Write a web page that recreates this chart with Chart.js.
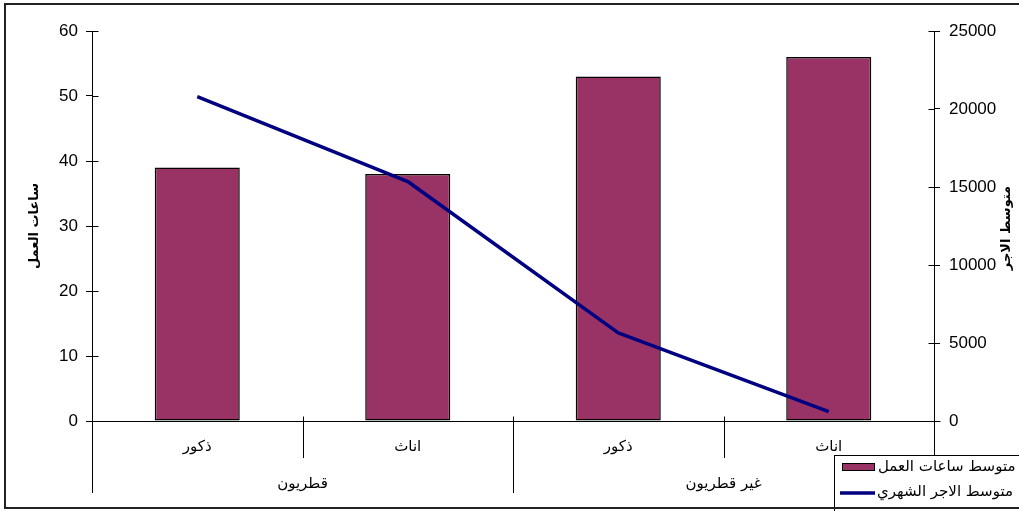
<!DOCTYPE html>
<html><head><meta charset="utf-8">
<script src="https://cdn.jsdelivr.net/npm/chart.js@4"></script>
<style>html,body{margin:0;padding:0;background:#fff;overflow:hidden}</style>
</head><body>
<canvas id="c" width="1019" height="511"></canvas>
<script>
const categories = ['ذكور','اناث','ذكور','اناث'];
const groups = ['قطريون','غير قطريون'];
const groupSpans = [2,2];
const hoursValues = [39,38,53,56];
const wageValues = [20800,15350,5650,600];
const hoursTickLabels = ['0','10','20','30','40','50','60'];
const wageTickLabels = ['0','5000','10000','15000','20000','25000'];
const seriesNames = ['متوسط ساعات العمل','متوسط الاجر الشهري'];
const axisTitles = ['ساعات العمل','متوسط الاجر'];

const BAR_COLOR = '#993366';
const LINE_COLOR = '#000080';
const TICK_FONT = {family:'"Liberation Sans", Arial, sans-serif', size:17};
const AR_FONT = '"DejaVu Sans", "Liberation Sans", sans-serif';

function seg(ctx,x1,y1,x2,y2){ctx.beginPath();ctx.moveTo(x1,y1);ctx.lineTo(x2,y2);ctx.stroke();}

const decor = {
  id:'decor',
  afterDraw(chart){
    const ctx = chart.ctx, ca = chart.chartArea;
    const xs = chart.scales.x, ys = chart.scales.y, ys1 = chart.scales.y1;
    ctx.save();
    ctx.strokeStyle = '#000'; ctx.lineWidth = 1;
    const L = Math.round(ca.left)+0.5, R = Math.round(ca.right)+0.5, B = Math.round(ca.bottom)+0.5;
    ys.ticks.forEach((t,i)=>{const py=Math.round(ys.getPixelForTick(i))+0.5; seg(ctx,L,py,L+6,py);});
    ys1.ticks.forEach((t,i)=>{const py=Math.round(ys1.getPixelForTick(i))+0.5; seg(ctx,R-6,py,R,py);});
    seg(ctx, L-6, B, R+6, B);
    const n = categories.length;
    const bounds = [];
    for(let i=0;i<=n;i++){
      if(i===0) bounds.push(ca.left);
      else if(i===n) bounds.push(ca.right);
      else bounds.push((xs.getPixelForValue(i-1)+xs.getPixelForValue(i))/2);
    }
    const groupEdges = [0]; groupSpans.forEach(s=>groupEdges.push(groupEdges[groupEdges.length-1]+s));
    bounds.forEach((bx,i)=>{
      const px = Math.round(bx)+0.5;
      const long = groupEdges.includes(i);
      seg(ctx, px, B-5, px, long ? 493 : 458);
    });
    ctx.fillStyle = '#000';
    ctx.direction = 'rtl';
    ctx.textAlign = 'center'; ctx.textBaseline = 'middle';
    ctx.font = '15px ' + AR_FONT;
    categories.forEach((c,i)=>ctx.fillText(c, xs.getPixelForValue(i), 447));
    groups.forEach((g,gi)=>{
      const a = bounds[groupEdges[gi]], b = bounds[groupEdges[gi+1]];
      ctx.fillText(g, (a+b)/2, 484);
    });
    ctx.font = 'bold 13px ' + AR_FONT;
    const midY = (ca.top+ca.bottom)/2;
    ctx.save(); ctx.translate(35, midY); ctx.rotate(-Math.PI/2); ctx.fillText(axisTitles[0],0,0); ctx.restore();
    ctx.save(); ctx.translate(1007, midY+2); ctx.rotate(-Math.PI/2); ctx.fillText(axisTitles[1],0,0); ctx.restore();
    ctx.fillStyle = '#fff';
    ctx.fillRect(834, 455, 200, 60);
    ctx.strokeStyle = '#000';
    ctx.strokeRect(834.5, 455.5, 200, 60);
    ctx.fillStyle = BAR_COLOR; ctx.fillRect(842, 463, 33, 8);
    ctx.strokeRect(842.5, 463.5, 32, 7);
    ctx.strokeStyle = LINE_COLOR; ctx.lineWidth = 3.5;
    seg(ctx, 840, 493, 875, 493);
    ctx.fillStyle = '#000';
    ctx.font = '15px ' + AR_FONT;
    ctx.textAlign = 'left';
    ctx.fillText(seriesNames[0], 878, 467);
    ctx.fillText(seriesNames[1], 877, 492);
    ctx.strokeStyle = '#222'; ctx.lineWidth = 2;
    ctx.strokeRect(5, 4, 1030, 504);
    ctx.restore();
  }
};

new Chart(document.getElementById('c'), {
  type:'bar',
  data:{
    labels: categories,
    datasets:[
      {type:'line', label:seriesNames[1], data:wageValues, yAxisID:'y1', borderColor:LINE_COLOR, backgroundColor:LINE_COLOR,
       borderWidth:3.5, pointRadius:0, tension:0, order:0, borderCapStyle:'butt', borderJoinStyle:'round'},
      {type:'bar', label:seriesNames[0], data:hoursValues, yAxisID:'y', backgroundColor:BAR_COLOR, borderColor:'#000',
       borderWidth:1.5, borderSkipped:false, categoryPercentage:1, barPercentage:0.404, order:1}
    ]
  },
  options:{
    responsive:false, animation:false, devicePixelRatio:1,
    layout:{padding:{top:31,left:0,right:0,bottom:0}},
    plugins:{legend:{display:false}, tooltip:{enabled:false}, title:{display:false}},
    scales:{
      x:{type:'category', offset:true, grid:{display:false}, border:{display:false}, ticks:{display:false},
         afterFit(s){s.height=90;}},
      y:{position:'left', min:0, max:60, ticks:{stepSize:10, color:'#000', font:TICK_FONT, padding:8,
           callback:(v,i)=>hoursTickLabels[i]},
         grid:{drawOnChartArea:false, color:'#000', tickLength:6}, border:{color:'#000', width:1},
         afterFit(s){s.width=92;}},
      y1:{position:'right', min:0, max:25000, ticks:{stepSize:5000, color:'#000', font:TICK_FONT, padding:9,
           callback:(v,i)=>wageTickLabels[i]},
         grid:{drawOnChartArea:false, color:'#000', tickLength:6}, border:{color:'#000', width:1},
         afterFit(s){s.width=85;}}
    }
  },
  plugins:[decor]
});
</script>
</body></html>
